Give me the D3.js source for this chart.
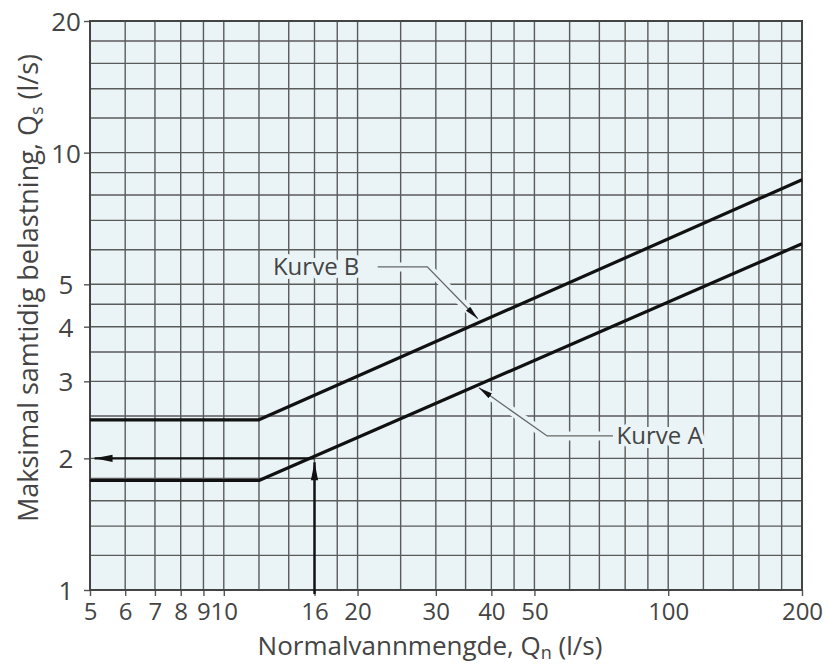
<!DOCTYPE html>
<html>
<head>
<meta charset="utf-8">
<script src="https://cdn.jsdelivr.net/npm/d3@7"></script>
<style>
  body { margin: 0; background: #fff; }
  svg text { font-family: 'Open Sans', 'Noto Sans', sans-serif; fill: #444; }
</style>
</head>
<body>
<svg width="828" height="665"></svg>
<script>
'use strict';
(() => {
// grid lines (log paper)
const xGrid = [5, 6, 7, 8, 9, 10, 12, 14, 16, 18, 20, 25, 30, 35, 40, 45, 50, 60, 70, 80, 90, 100, 120, 140, 160, 180, 200];
const yGrid = [1, 1.2, 1.4, 1.6, 1.8, 2, 2.5, 3, 3.5, 4, 4.5, 5, 6, 7, 8, 9, 10, 12, 14, 16, 18, 20];
// labelled ticks
const xTicks = [5, 6, 7, 8, 9, 10, 16, 20, 30, 40, 50, 100, 200];
const yTicks = [1, 2, 3, 4, 5, 10, 20];
// curves: [Qn, Qs]
const kurveA = [[5, 1.78], [12, 1.78], [200, 6.19]];
const kurveB = [[5, 2.45], [12, 2.45], [200, 8.67]];
// read-off example at Qn = 16
const readUp = [[16, 1], [16, 2.0]];
const readLeft = [[16, 2], [5.12, 2]];
// label leaders
const leaderB = [[22.2, 5.48], [28.7, 5.48], [37.3, 4.17]];
const leaderA = [[75.1, 2.25], [53.4, 2.25], [37.5, 2.9]];
const labelB = { text: 'Kurve B', at: [12.9, 5.48] };
const labelA = { text: 'Kurve A', at: [76.5, 2.25] };

const margin = { left: 90, right: 26, top: 21, bottom: 75 };
const width = 828 - margin.left - margin.right;
const height = 665 - margin.top - margin.bottom;
const bg = '#eaf4f7';

var x = d3.scaleLog().domain([5, 200]).range([0, width]);
var y = d3.scaleLog().domain([1, 20]).range([height, 0]);
var line = d3.line().x(d => x(d[0])).y(d => y(d[1]));

var svg = d3.select('svg');
var defs = svg.append('defs');
defs.append('marker')
  .attr('id', 'bigArrow')
  .attr('viewBox', '0 0 20 10').attr('refX', 20).attr('refY', 5)
  .attr('markerUnits', 'userSpaceOnUse')
  .attr('markerWidth', 20).attr('markerHeight', 9)
  .attr('orient', 'auto')
  .append('path').attr('d', 'M0,1 L20,5 L0,9 Z').attr('fill', '#111');
defs.append('marker')
  .attr('id', 'smallArrow')
  .attr('viewBox', '0 0 14 8').attr('refX', 14).attr('refY', 4)
  .attr('markerUnits', 'userSpaceOnUse')
  .attr('markerWidth', 14).attr('markerHeight', 8)
  .attr('orient', 'auto')
  .append('path').attr('d', 'M0,1 L14,4 L0,7 Z').attr('fill', '#111');

var g = svg.append('g').attr('transform', `translate(${margin.left}, ${margin.top})`);

g.append('rect').attr('width', width).attr('height', height).attr('fill', bg);

// grid
g.append('g').selectAll('line').data(xGrid).enter().append('line')
  .attr('x1', d => x(d)).attr('x2', d => x(d))
  .attr('y1', 0).attr('y2', height)
  .attr('stroke', '#5a5a5a').attr('stroke-width', 1.4);
g.append('g').selectAll('line').data(yGrid).enter().append('line')
  .attr('y1', d => y(d)).attr('y2', d => y(d))
  .attr('x1', 0).attr('x2', width)
  .attr('stroke', '#5a5a5a').attr('stroke-width', 1.4);

// axes
var xAxis = g.append('g').attr('transform', `translate(0, ${height})`)
  .call(d3.axisBottom(x).tickValues(xTicks).tickFormat(d3.format('d')).tickSize(6).tickPadding(6));
var yAxis = g.append('g')
  .call(d3.axisLeft(y).tickValues(yTicks).tickFormat(d3.format('d')).tickSize(6).tickPadding(6));
[xAxis, yAxis].forEach(a => {
  a.select('.domain').remove();
  a.selectAll('.tick line').attr('stroke', '#555').attr('stroke-width', 1.4);
  a.selectAll('.tick text').attr('fill', '#444').style('font-size', '26px');
});
xAxis.selectAll('.tick text').style('font-size', '24px').attr('dy', '0.75em');
yAxis.selectAll('.tick text').attr('text-anchor', 'middle').attr('x', -24).attr('dy', '0.36em');

// frame
g.append('rect').attr('width', width).attr('height', height)
  .attr('fill', 'none').attr('stroke', '#444').attr('stroke-width', 2);

// leaders with a halo that breaks the grid
function leader(pts) {
  g.append('path').attr('d', line(pts))
    .attr('fill', 'none').attr('stroke', bg).attr('stroke-width', 9);
  g.append('path').attr('d', line(pts))
    .attr('fill', 'none').attr('stroke', '#666').attr('stroke-width', 1.3)
    .attr('marker-end', 'url(#smallArrow)');
}
leader(leaderB);
leader(leaderA);

[labelB, labelA].forEach(l => {
  g.append('text')
    .attr('x', x(l.at[0])).attr('y', y(l.at[1])).attr('dy', '0.35em')
    .style('font-size', '24px')
    .attr('stroke', bg).attr('stroke-width', 8).attr('paint-order', 'stroke')
    .attr('stroke-linejoin', 'round')
    .text(l.text);
});

// curves
[kurveA, kurveB].forEach(c => {
  g.append('path').attr('d', line(c))
    .attr('fill', 'none').attr('stroke', '#111').attr('stroke-width', 3.2)
    .attr('stroke-linejoin', 'round');
});

// read-off arrows
g.append('path').attr('d', line(readUp))
  .attr('fill', 'none').attr('stroke', '#111').attr('stroke-width', 2.4)
  .attr('transform', 'translate(0, 4)')
  .attr('marker-end', 'url(#bigArrow)');
g.append('path').attr('d', line(readLeft))
  .attr('fill', 'none').attr('stroke', '#111').attr('stroke-width', 2.4)
  .attr('marker-end', 'url(#bigArrow)');

// axis titles
var xt = svg.append('text')
  .attr('x', 430).attr('y', 655)
  .attr('text-anchor', 'middle').style('font-size', '26px');
xt.append('tspan').text('Normalvannmengde, Q');
xt.append('tspan').attr('dy', 4).style('font-size', '18px').text('n');
xt.append('tspan').attr('dy', -4).text(' (l/s)');

var yt = svg.append('text')
  .attr('transform', `translate(38, 288) rotate(-90)`)
  .attr('text-anchor', 'middle').style('font-size', '27px');
yt.append('tspan').text('Maksimal samtidig belastning, Q');
yt.append('tspan').attr('dy', 5).style('font-size', '18px').text('s');
yt.append('tspan').attr('dy', -5).text(' (l/s)');
})();
</script>
</body>
</html>
